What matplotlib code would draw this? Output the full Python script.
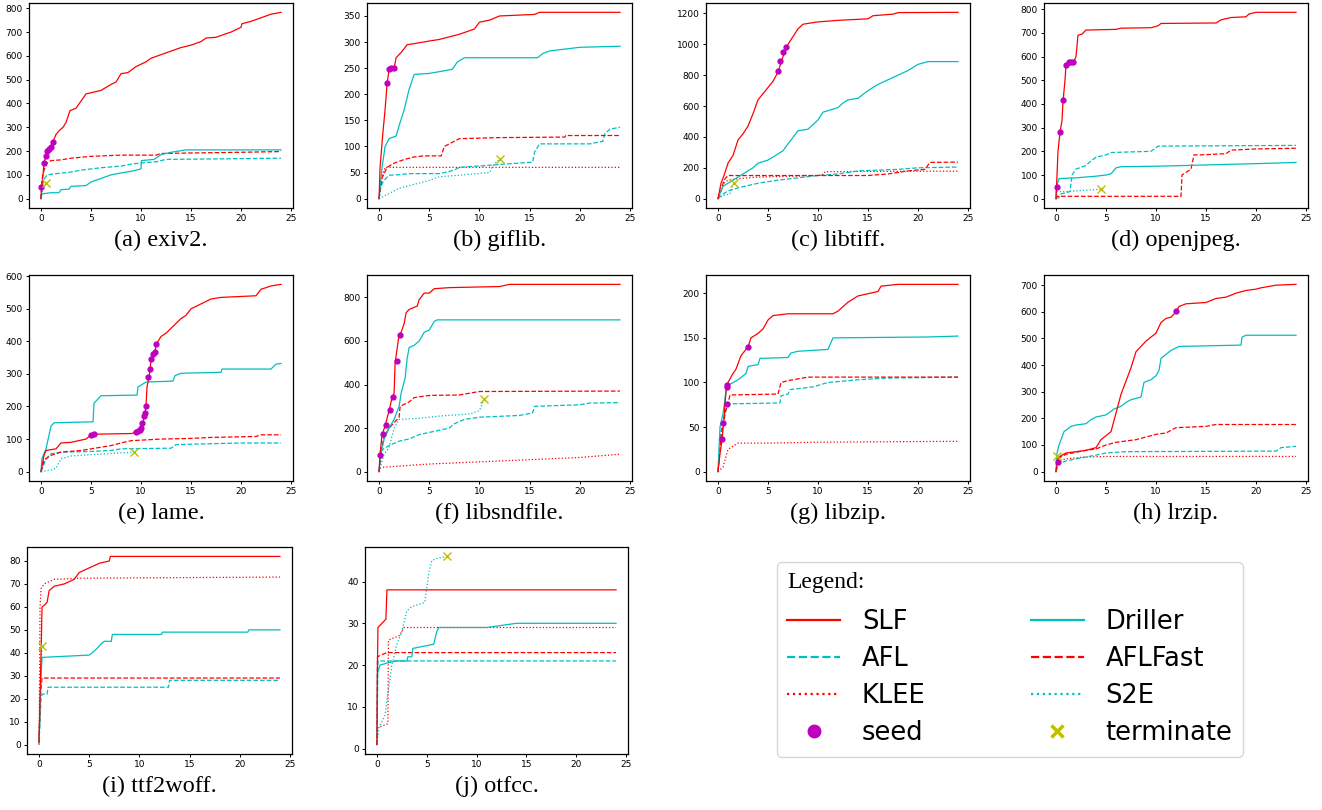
import matplotlib
matplotlib.use("Agg")
import matplotlib.pyplot as plt
from matplotlib.lines import Line2D

W, H = 1322, 810
plt.rcParams.update({"font.family": "DejaVu Sans", "font.size": 6.5, "axes.linewidth": 0.9,
    "xtick.major.size": 2.5, "ytick.major.size": 2.5, "xtick.major.width": 0.7,
    "ytick.major.width": 0.7, "xtick.major.pad": 2, "ytick.major.pad": 2})

# ---- data: (hours, covered edges) ----
# (a) exiv2
exiv2_slf = [(0,0),(0.05,50),(0.2,100),(0.3,150),(0.5,180),(0.7,200),(1.0,220),(1.2,240),(1.5,270),(1.8,285),
             (2.2,300),(2.5,320),(2.9,370),(3.5,380),(4.0,410),(4.5,440),(5,445),(6,455),(7,480),(7.5,490),(8,525),
             (8.7,530),(9.5,555),(10.5,575),(11,590),(12,605),(13,620),(14,635),(15,645),(16,660),(16.5,675),
             (17.5,678),(18.3,690),(19,700),(20,720),(20.1,735),(21,745),(22,760),(23,775),(24,783)]
exiv2_aflfast = [(0,0),(0.1,80),(0.3,120),(0.6,150),(1,160),(2,163),(3,170),(5,178),(8,183),(11.5,183),(12,190),
                 (15,192),(20,195),(24,198)]
exiv2_afl = [(0,0),(0.1,50),(0.3,80),(0.6,100),(1.5,105),(3,112),(4,120),(6,130),(8,137),(9,145),(10,150),
             (11.5,155),(12.5,165),(24,170)]
exiv2_driller = [(0,0),(0.05,20),(1,25),(1.8,25),(2,38),(2.8,40),(3,52),(4.5,55),(5,70),(6,85),(7,100),(8,108),
                 (9,115),(10,125),(10.05,160),(11.3,165),(12,185),(13,195),(14.5,205),(24,205)]
exiv2_s2e = [(0,0),(0.2,40),(0.5,65)]
exiv2_seed = [(0.0,50),(0.25,148),(0.45,180),(0.6,200),(0.8,210),(0.95,218),(1.2,238)]
exiv2_term = [(0.5,65)]

# (b) giflib
giflib_slf = [(0,0),(0.1,60),(0.4,130),(0.6,170),(0.8,220),(1.0,248),(1.5,250),(1.7,270),(2.2,280),(2.8,295),
              (3.5,297),(5,302),(6,305),(7,310),(8,315),(9.5,325),(10,338),(11,342),(12,350),(15.5,353),(16,357),(24,357)]
giflib_driller = [(0,0),(0.3,60),(0.6,100),(1,115),(1.7,120),(2,140),(2.5,170),(3,210),(3.5,238),(5,240),(6.5,245),
                  (7.3,248),(7.8,262),(8.5,270),(15.8,270),(16.3,278),(17,283),(20,290),(24,292)]
giflib_aflfast = [(0,0),(0.3,40),(0.8,60),(1.5,68),(2.5,75),(3.5,80),(4.5,82),(6.2,82),(6.5,100),(7,105),(8,115),
                  (12,117),(18.5,118),(18.6,121),(24,121)]
giflib_afl = [(0,0),(0.2,25),(0.5,35),(1,45),(2,46),(3,48),(6,48),(7,52),(7.5,55),(8,60),(15.3,70),(15.5,90),
              (16,105),(21,105),(22.3,110),(22.5,125),(23,133),(24,137)]
giflib_klee = [(0,0),(0.2,35),(0.6,60),(24,60)]
giflib_s2e = [(0,0),(1,10),(2,20),(3,25),(5,35),(6,42),(8,45),(11,50),(11.3,62),(12,76)]
giflib_seed = [(0.8,221),(1.0,249),(1.2,250),(1.45,250)]
giflib_term = [(12,76)]

# (c) libtiff
libtiff_slf = [(0,0),(0.3,100),(0.6,150),(1,230),(1.5,280),(2,380),(2.5,420),(3,470),(3.5,550),(4,640),(5,720),
               (5.5,760),(6,820),(6.5,920),(7,1000),(7.5,1050),(8,1100),(8.5,1130),(10,1145),(12,1155),(15,1165),
               (15.5,1185),(17.5,1195),(18,1205),(24,1207)]
libtiff_driller = [(0,0),(0.3,50),(0.5,80),(1,100),(1.5,120),(2,140),(2.5,160),(3,180),(3.5,200),(4,230),(5,250),
                   (6,290),(6.5,310),(7,355),(8,440),(9,450),(10,510),(10.5,560),(11,570),(12,590),(12.5,620),
                   (13,640),(14,650),(15,700),(16,740),(17,770),(18,800),(19,830),(20,870),(21,888),(24,888)]
libtiff_aflfast = [(0,0),(0.3,50),(0.6,120),(1,150),(10,150),(15,150),(17,160),(19,180),(20.7,190),(21.2,235),(24,237)]
libtiff_afl = [(0,0),(0.5,30),(1,50),(2,70),(4,100),(6,120),(8,135),(10,150),(12,160),(14,180),(16,185),(18,190),
               (20,200),(24,205)]
libtiff_klee = [(0,0),(0.3,60),(0.6,100),(1,120),(2,130),(4,140),(10,150),(10.6,160),(10.7,175),(20,178),(24,178)]
libtiff_s2e = [(0,0),(0.5,20),(1.2,30),(1.4,80),(1.6,100)]
libtiff_seed = [(6.0,830),(6.2,890),(6.5,948),(6.8,980)]
libtiff_term = [(1.6,100)]

# (d) openjpeg
openjpeg_slf = [(0,0),(0.05,50),(0.2,200),(0.4,280),(0.6,330),(0.7,410),(0.9,500),(1.0,565),(1.3,575),(1.8,580),
                (2.0,600),(2.2,690),(2.6,695),(3,712),(6,715),(6.5,720),(9.5,722),(10.2,730),(10.5,740),(16,742),
                (16.5,755),(17.5,765),(19,768),(19.3,780),(20,787),(24,787)]
openjpeg_driller = [(0,0),(0.05,50),(0.3,85),(2,88),(4,95),(5,100),(5.5,105),(6,130),(6.5,135),(10,137),(20,148),
                    (24,153)]
openjpeg_afl = [(0,0),(0.3,5),(0.5,20),(1.4,30),(1.6,100),(2,125),(3,140),(3.5,160),(4,175),(5,185),(5.5,195),
                (9.5,200),(10,215),(10.2,222),(24,225)]
openjpeg_aflfast = [(0,0),(0.1,10),(12.5,10),(12.6,100),(13.5,125),(13.8,185),(14.5,185),(17,190),(17.5,205),
                    (20,210),(24,213)]
openjpeg_s2e = [(0,0),(0.1,30),(1,30),(4.5,40)]
openjpeg_seed = [(0.05,50),(0.4,283),(0.7,415),(1.0,565),(1.3,577),(1.5,578),(1.7,578)]
openjpeg_term = [(4.5,40)]

# (e) lame
lame_slf = [(0,0),(0.3,50),(0.5,65),(1.5,70),(2,88),(3,90),(4.5,100),(5,113),(5.5,115),(9,117),(9.5,120),(10,130),
            (10.2,150),(10.4,180),(10.5,200),(10.6,260),(10.8,290),(11,340),(11.3,360),(11.6,395),(12,415),
            (12.5,425),(13,440),(13.5,455),(14,470),(14.5,480),(15,500),(16,515),(17,530),(18,535),(21.5,540),
            (22,560),(23,570),(24,575)]
lame_driller = [(0,0),(0.1,40),(0.5,70),(1,140),(1.3,150),(5.2,153),(5.3,210),(6,233),(9.6,235),(9.7,260),
                (10.5,275),(13.2,278),(13.4,295),(14,302),(18,305),(18.1,315),(23,315),(23.5,330),(24,332)]
lame_aflfast = [(0,0),(0.3,35),(1,50),(2,60),(4,65),(5,70),(6,75),(7,80),(8,88),(9,95),(12,100),(15,102),(17,105),
                (21.5,108),(22,113),(24,113)]
lame_afl = [(0,0),(0.5,40),(1,55),(2,60),(5,62),(7,65),(8,70),(13,72),(13.5,83),(20,88),(24,88)]
lame_s2e = [(0,0),(1,5),(1.5,10),(2,40),(3,48),(5,52),(9.3,60)]
lame_seed = [(5.0,114),(5.3,115),(9.5,121),(9.7,124),(9.9,128),(10.0,133),(10.1,150),(10.3,170),(10.4,180),
             (10.5,200),(10.7,290),(10.9,316),(11,345),(11.2,360),(11.4,368),(11.5,392)]
lame_term = [(9.3,60)]

# (f) libsndfile
sndfile_slf = [(0,0),(0.1,80),(0.3,170),(0.6,210),(1,280),(1.3,340),(1.5,360),(1.6,500),(2,630),(2.2,640),
               (2.5,680),(2.7,730),(3,745),(3.8,760),(4,790),(4.5,820),(5,820),(5.5,840),(7,845),(12,850),(13,860),(24,860)]
sndfile_driller = [(0,0),(0.1,60),(0.5,150),(1,200),(1.5,240),(2,300),(2.2,360),(2.6,430),(2.8,520),(3,570),
                   (3.5,580),(4,600),(4.5,640),(5,650),(5.5,690),(5.8,697),(24,697)]
sndfile_aflfast = [(0,0),(0.2,100),(0.5,160),(1,200),(2,250),(2.1,300),(3,320),(3.5,340),(5,350),(8,352),(9,360),
                   (10,368),(24,370)]
sndfile_afl = [(0,0),(0.3,100),(1,120),(2,140),(3,150),(4,170),(5,180),(6,190),(7,200),(7.5,220),(8.5,240),
               (10,250),(14,258),(15.3,270),(15.5,300),(20,307),(21,315),(24,317)]
sndfile_klee = [(0,0),(0.1,15),(0.3,20),(5,35),(10,45),(15,55),(20,65),(24,80)]
sndfile_s2e = [(0,0),(0.5,80),(1,110),(1.5,200),(2,240),(4,245),(6,255),(9,265),(10,280),(10.3,315),(10.5,335)]
sndfile_seed = [(0.05,77),(0.35,175),(0.7,215),(1.05,283),(1.4,343),(1.75,508),(2.05,628)]
sndfile_term = [(10.5,335)]

# (g) libzip
libzip_slf = [(0,0),(0.2,20),(0.4,35),(0.6,60),(0.8,90),(1,100),(1.5,110),(1.8,115),(2.3,130),(3,140),(3.3,150),
              (4,155),(4.5,160),(5,170),(5.5,175),(7,177),(11.5,177),(12,180),(12.5,185),(13,190),(14,197),
              (16,202),(16.3,208),(18,210),(24,210)]
libzip_driller = [(0,0),(0.2,50),(0.5,65),(0.8,90),(1.2,98),(2,103),(2.8,110),(3,118),(4,120),(4.2,127),(7,128),
                  (7.3,133),(8,135),(11,137),(11.5,150),(21,151),(24,152)]
libzip_aflfast = [(0,0),(0.3,40),(0.8,70),(1.0,76),(1.2,86),(6,87),(6.3,100),(7,102),(9,106),(24,106)]
libzip_afl = [(0,0),(0.3,45),(0.7,66),(1.1,76),(6.2,77),(6.3,85),(7,87),(7.2,92),(9.5,95),(11,100),(14,103),
              (17,105),(24,106)]
libzip_klee = [(0,0),(0.5,5),(1,25),(2,32),(5,32),(10,33),(24,34)]
libzip_seed = [(0.4,37),(0.5,54),(0.85,76),(0.85,95),(0.9,97),(3.0,140)]

# (h) lrzip
lrzip_slf = [(0,0),(0.2,50),(0.5,60),(1,70),(2,75),(3,80),(4,90),(4.5,120),(5,135),(5.5,150),(6,220),(6.5,290),
             (7,340),(7.5,390),(8,450),(8.5,470),(9,490),(10,520),(10.5,560),(11,575),(11.5,580),(12,600),
             (12.3,620),(13,630),(15,635),(16,650),(17,655),(18,670),(19,680),(20,685),(20.5,690),(22,700),(24,703)]
lrzip_driller = [(0,0),(0.1,70),(0.3,100),(0.8,150),(1.5,170),(2,175),(3,180),(3.5,195),(4,205),(5,213),(5.8,235),
                 (6.5,245),(7,260),(7.5,270),(8.5,280),(8.8,335),(9.5,345),(10,360),(10.3,380),(10.5,425),
                 (11.5,455),(12.3,470),(18.5,475),(18.6,505),(19,512),(24,512)]
lrzip_aflfast = [(0,0),(0.2,50),(1,65),(3,80),(4,85),(5,100),(6,110),(7,115),(8,120),(9,130),(10,140),(11,145),
                 (12,165),(15,170),(16,177),(24,177)]
lrzip_afl = [(0,0),(0.2,30),(1,40),(2,48),(3,55),(4,62),(5,70),(7,75),(22,77),(22.5,90),(24,95)]
lrzip_klee = [(0,0),(0.2,40),(1,48),(3,55),(5,57),(24,57)]
lrzip_s2e = [(0,0),(0.05,60)]
lrzip_seed = [(12,604),(0.2,35)]
lrzip_term = [(0.05,60)]

# (i) ttf2woff
ttf_slf = [(0,1),(0.2,40),(0.3,60),(0.6,61),(0.8,62),(1,67),(1.5,69),(2.5,70),(3,71),(3.5,72),(4,75),(5,77),
           (6,79),(7,80),(7.1,82),(24,82)]
ttf_klee = [(0,0),(0.1,60),(0.2,68),(0.5,70),(1,71),(1.5,72),(4,72.5),(24,73)]
ttf_driller = [(0,1),(0.2,30),(0.3,38),(5,39),(5.3,40),(5.8,42),(6.2,44),(6.5,45),(7.2,45),(7.3,48),(12.2,48),
               (12.3,49),(20.8,49),(20.9,50),(24,50)]
ttf_aflfast = [(0,1),(0.1,20),(0.3,29),(24,29)]
ttf_afl = [(0,1),(0.2,20),(0.3,22),(0.8,22),(0.9,25),(12.9,25),(13,28),(24,28)]
ttf_s2e = [(0,0),(0.2,35),(0.3,43)]
ttf_term = [(0.3,43)]

# (j) otfcc
otfcc_slf = [(0,1),(0.05,20),(0.1,29),(0.9,31),(1,38),(24,38)]
otfcc_aflfast = [(0,1),(0.05,22),(0.5,22.5),(1,23),(24,23)]
otfcc_afl = [(0,1),(0.1,21),(24,21)]
otfcc_driller = [(0,1),(0.05,18),(0.3,20),(1,20.5),(2,21),(3,21),(3.1,22),(3.5,22),(3.6,24),(5.7,25),(6,28),
                 (6.2,29),(11,29),(14,30),(24,30)]
otfcc_klee = [(0,1),(0.05,5),(1.1,6),(1.15,26),(2.2,27),(2.5,28),(2.7,29),(24,29)]
otfcc_s2e = [(0,1),(0.2,5),(0.8,8),(1.2,15),(1.5,20),(2,25),(2.5,28),(3,33),(3.5,34),(4.8,35),(5.2,42),(5.5,45),
             (6,45.5),(7,46)]
otfcc_term = [(7,46)]

xticks = [0, 5, 10, 15, 20, 25]

STY = {"KLEE": ("r", ":"), "S2E": ("c", ":"), "AFL": ("c", "--"), "AFLFast": ("r", "--"),
       "Driller": ("c", "-"), "SLF": ("r", "-")}

# caption, series, seeds, terminate, yticks, box in pixels (left, top, right, bottom)
panels = [
    ("(a) exiv2.", {"AFL": exiv2_afl, "AFLFast": exiv2_aflfast, "Driller": exiv2_driller, "S2E": exiv2_s2e,
                    "SLF": exiv2_slf}, exiv2_seed, exiv2_term, range(0, 801, 100), (29, 3, 293, 208)),
    ("(b) giflib.", {"KLEE": giflib_klee, "S2E": giflib_s2e, "AFL": giflib_afl, "AFLFast": giflib_aflfast,
                     "Driller": giflib_driller, "SLF": giflib_slf}, giflib_seed, giflib_term,
     range(0, 351, 50), (367, 3, 632, 208)),
    ("(c) libtiff.", {"KLEE": libtiff_klee, "S2E": libtiff_s2e, "AFL": libtiff_afl, "AFLFast": libtiff_aflfast,
                      "Driller": libtiff_driller, "SLF": libtiff_slf}, libtiff_seed, libtiff_term,
     range(0, 1201, 200), (706, 3, 970, 208)),
    ("(d) openjpeg.", {"S2E": openjpeg_s2e, "AFL": openjpeg_afl, "AFLFast": openjpeg_aflfast,
                       "Driller": openjpeg_driller, "SLF": openjpeg_slf}, openjpeg_seed, openjpeg_term,
     range(0, 801, 100), (1044, 3, 1308, 208)),
    ("(e) lame.", {"S2E": lame_s2e, "AFL": lame_afl, "AFLFast": lame_aflfast, "Driller": lame_driller,
                   "SLF": lame_slf}, lame_seed, lame_term, range(0, 601, 100), (29, 275, 293, 481)),
    ("(f) libsndfile.", {"KLEE": sndfile_klee, "S2E": sndfile_s2e, "AFL": sndfile_afl, "AFLFast": sndfile_aflfast,
                         "Driller": sndfile_driller, "SLF": sndfile_slf}, sndfile_seed, sndfile_term,
     range(0, 801, 200), (367, 275, 632, 481)),
    ("(g) libzip.", {"KLEE": libzip_klee, "AFL": libzip_afl, "AFLFast": libzip_aflfast, "Driller": libzip_driller,
                     "SLF": libzip_slf}, libzip_seed, [], range(0, 201, 50), (706, 275, 970, 481)),
    ("(h) lrzip.", {"KLEE": lrzip_klee, "S2E": lrzip_s2e, "AFL": lrzip_afl, "AFLFast": lrzip_aflfast,
                    "Driller": lrzip_driller, "SLF": lrzip_slf}, lrzip_seed, lrzip_term,
     range(0, 701, 100), (1044, 275, 1308, 481)),
    ("(i) ttf2woff.", {"KLEE": ttf_klee, "S2E": ttf_s2e, "AFL": ttf_afl, "AFLFast": ttf_aflfast,
                       "Driller": ttf_driller, "SLF": ttf_slf}, [], ttf_term, range(0, 81, 10), (27, 547, 292, 754)),
    ("(j) otfcc.", {"KLEE": otfcc_klee, "S2E": otfcc_s2e, "AFL": otfcc_afl, "AFLFast": otfcc_aflfast,
                    "Driller": otfcc_driller, "SLF": otfcc_slf}, [], otfcc_term, range(0, 41, 10), (365, 547, 628, 754)),
]

fig = plt.figure(figsize=(W / 100, H / 100), dpi=100)
for cap, series, seeds, term, yt, (l, t, r, b) in panels:
    ax = fig.add_axes([l / W, 1 - b / H, (r - l) / W, (b - t) / H])
    for name in ["KLEE", "S2E", "AFL", "AFLFast", "Driller", "SLF"]:
        if name in series:
            pts = series[name]
            c, ls = STY[name]
            ax.plot([p[0] for p in pts], [p[1] for p in pts], color=c, ls=ls, lw=0.9)
    if seeds:
        ax.plot([p[0] for p in seeds], [p[1] for p in seeds], ls="none", marker="o", color="m", ms=3.5)
    if term:
        ax.plot([p[0] for p in term], [p[1] for p in term], ls="none", marker="x", color="y", ms=5.5, mew=1)
    ax.set_xticks(xticks)
    ax.set_yticks(list(yt))
    fig.text((l + r) / 2 / W, 1 - (b + 32) / H, cap, ha="center", va="center",
             family="Liberation Serif", fontsize=17.5)

handles = [Line2D([], [], color="r", ls="-", lw=1.6), Line2D([], [], color="c", ls="--", lw=1.6),
           Line2D([], [], color="r", ls=":", lw=1.6),
           Line2D([], [], ls="none", marker="o", color="m", ms=9),
           Line2D([], [], color="c", ls="-", lw=1.6), Line2D([], [], color="r", ls="--", lw=1.6),
           Line2D([], [], color="c", ls=":", lw=1.6),
           Line2D([], [], ls="none", marker="x", color="y", ms=9, mew=2.5)]
labels = ["SLF", "AFL", "KLEE", "seed", "Driller", "AFLFast", "S2E", "terminate"]
leg = fig.legend(handles, labels, ncol=2, loc="upper left", bbox_to_anchor=(777 / W, 1 - 562 / H),
                 borderaxespad=0, fontsize=18.5, title="Legend:", alignment="left",
                 title_fontproperties={"family": "Liberation Serif", "size": 17},
                 handlelength=2.05, handletextpad=0.85, columnspacing=4.1, labelspacing=0.44,
                 borderpad=0.4)
leg._legend_box.sep = 11

fig.savefig("out.png", dpi=100)
